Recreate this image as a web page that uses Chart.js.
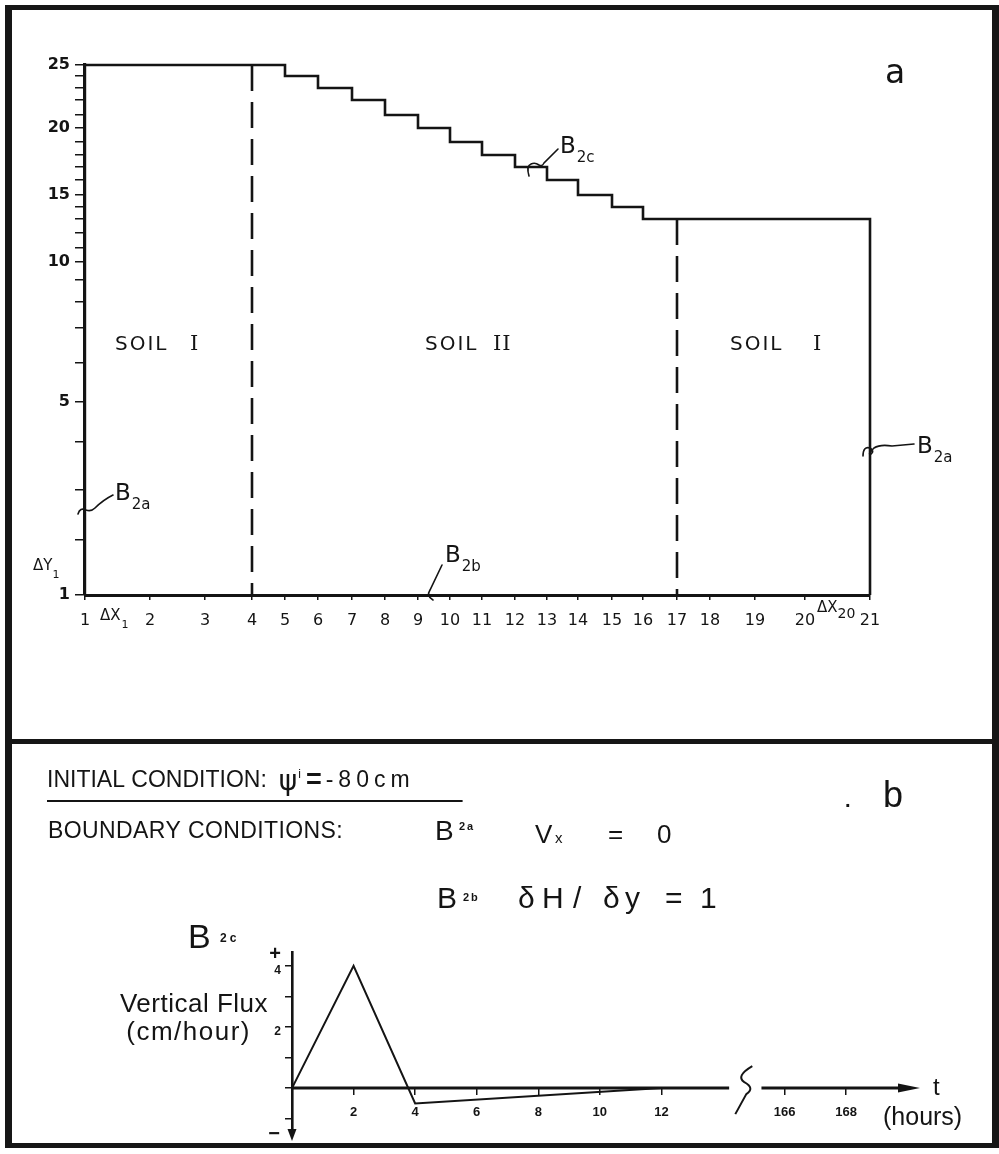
<!DOCTYPE html>
<html>
<head>
<meta charset="utf-8">
<title>Flow domain grid and boundary conditions</title>
<script src="https://cdn.jsdelivr.net/npm/chart.js@4.4.1/dist/chart.umd.min.js"></script>
<style>
  html, body { margin: 0; padding: 0; background: #fff; }
  #page { position: relative; width: 999px; height: 1154px; overflow: hidden; background: #fff; }
  #frame { position: absolute; left: 5px; top: 5px; width: 994px; height: 1143px; box-sizing: border-box;
           border-style: solid; border-color: #161616; border-width: 5px 7px 5px 7px; }
  #divider { position: absolute; left: 5px; top: 739px; width: 994px; height: 5px; background: #161616; }
  canvas { position: absolute; left: 0; }
  #gridChart { top: 0; }
  #fluxChart { top: 745px; }
</style>
</head>
<body>
<div id="page">
  <div id="frame"></div>
  <div id="divider"></div>
  <canvas id="gridChart" width="999" height="735"></canvas>
  <canvas id="fluxChart" width="999" height="405"></canvas>
</div>
<script>
const ink = '#141414';

// --- panel a: finite-difference grid, node coordinates in cm from the lower-left corner
const xNodes = [0, 6.5, 12.0, 16.7, 20.0, 23.3, 26.7, 30.0, 33.3, 36.5, 39.7,
                43.0, 46.2, 49.3, 52.7, 55.8, 59.2, 62.5, 67.0, 72.0, 78.5];
const yNodes = [0, 5.5, 10.5, 15.3, 19.3, 23.2, 26.7, 29.3, 31.5, 33.3, 34.7, 36.2, 37.6,
                38.8, 40.0, 41.5, 42.8, 44.0, 45.3, 46.7, 48.0, 49.5, 50.7, 51.9, 53.0];
const yNumbered = [1, 5, 10, 15, 20, 25];
// highest active row in each column (1-based)
const surfaceRow = [25, 25, 25, 25, 25, 24, 23, 22, 21, 20, 19, 18, 17, 16, 15, 14, 13, 13, 13, 13, 13];
// columns where the soil material changes
const materialBreaks = [4, 17];
const soilUnits = ['I', 'II', 'I'];

// --- panel b: prescribed surface flux (B2c)
const fluxHours = [0, 2, 4, 12];
const fluxRate = [0, 4, -0.5, 0];
const hourTicks = [2, 4, 6, 8, 10, 12, 166, 168];
const fluxTicks = [-1, 0, 1, 2, 3, 4];
const fluxNumbered = [2, 4];
const skippedHours = 150;          // hours hidden by the axis break
const timeAxisGap = [14.2, 15.25]; // break in the time axis (plotted units)
const timeAxisEnd = 20.4;

const plotHour = h => (h > 100 ? h - skippedHours : h);

function write(ctx, str, x, y, font, opts = {}) {
  ctx.font = font;
  ctx.textAlign = opts.align || 'left';
  ctx.textBaseline = opts.baseline || 'alphabetic';
  ctx.letterSpacing = (opts.spacing || 0) + 'px';
  ctx.fillText(str, x, y);
  const w = ctx.measureText(str).width;
  ctx.letterSpacing = '0px';
  return x + w;
}

// little hand-drawn leader lines: M / Q / L commands relative to an anchor
function leader(ctx, ax, ay, cmds) {
  ctx.beginPath();
  cmds.forEach(c => {
    if (c[0] === 'M') ctx.moveTo(ax + c[1], ay + c[2]);
    else if (c[0] === 'L') ctx.lineTo(ax + c[1], ay + c[2]);
    else ctx.quadraticCurveTo(ax + c[1], ay + c[2], ax + c[3], ay + c[4]);
  });
  ctx.stroke();
}

function surfacePoints() {
  const pts = [{ x: xNodes[0], y: yNodes[surfaceRow[0] - 1] }];
  for (let i = 1; i < xNodes.length; i++) {
    const top = yNodes[surfaceRow[i] - 1];
    pts.push({ x: xNodes[i - 1], y: top });
    pts.push({ x: xNodes[i], y: top });
  }
  pts.push({ x: xNodes[xNodes.length - 1], y: yNodes[0] });
  return pts;
}

const gridNotes = {
  id: 'gridNotes',
  afterDraw(chart) {
    const { ctx, scales: { x, y } } = chart;
    const px = v => x.getPixelForValue(v);
    const py = v => y.getPixelForValue(v);
    ctx.save();
    ctx.fillStyle = ink;
    ctx.strokeStyle = ink;
    ctx.lineWidth = 1.6;
    ctx.lineCap = 'round';

    // soil zones
    const zoneAt = [[3.0, 75], [34.0, 68], [64.5, 83]];
    soilUnits.forEach((num, i) => {
      const x0 = px(zoneAt[i][0]), base = py(24.5);
      write(ctx, 'SOIL', x0, base, '20px "DejaVu Sans"', { spacing: 2 });
      write(ctx, num, x0 + zoneAt[i][1], base, '21px "DejaVu Serif"', { spacing: 1 });
    });

    write(ctx, 'a', px(80), py(51.2), '33px "DejaVu Sans"');

    // boundary segment tags
    const tags = [
      { at: [0, 8.5], sub: '2a', dx: 30, dy: -10,
        path: [['M', -7, 4], ['Q', -5, -3, 1, 0], ['Q', 6, 2, 10, -2], ['Q', 18, -10, 28, -15]] },
      { at: [34.5, 0], sub: '2b', dx: 15, dy: -33,
        path: [['M', 3, 5], ['Q', -4, 1, 0, -5], ['L', 12, -30]] },
      { at: [44.5, 42.6], sub: '2c', dx: 30, dy: -16,
        path: [['M', -1, 7], ['Q', -4, -3, 1, -5], ['Q', 5, -7, 9, -4], ['Q', 12, -2, 14, -6], ['L', 28, -20]] },
      { at: [78.5, 14.3], sub: '2a', dx: 47, dy: 1,
        path: [['M', -7, 4], ['Q', -7, -6, 0, -4], ['Q', 5, -1, 1, 2], ['Q', -3, 3, 4, -4], ['Q', 10, -8, 22, -6], ['L', 44, -8]] }
    ];
    tags.forEach(t => {
      const ax = px(t.at[0]), ay = py(t.at[1]);
      leader(ctx, ax, ay, t.path);
      const e = write(ctx, 'B', ax + t.dx, ay + t.dy, '23px "DejaVu Sans"');
      write(ctx, t.sub, e + 1, ay + t.dy + 9, '15px "DejaVu Sans"');
    });

    // grid spacing marks
    const ox = px(0), oy = py(0);
    let e = write(ctx, '\u0394Y', ox - 52, oy - 25, '15px "DejaVu Sans"');
    write(ctx, '1', e, oy - 17, '11px "DejaVu Sans"');
    e = write(ctx, '\u0394X', ox + 15, oy + 25, '15px "DejaVu Sans"');
    write(ctx, '1', e + 1, oy + 33, '11px "DejaVu Sans"');
    e = write(ctx, '\u0394X', px(xNodes[19]) + 12, oy + 17, '15px "DejaVu Sans"');
    write(ctx, '20', e, oy + 23, '14px "DejaVu Sans"');
    ctx.restore();
  }
};

new Chart(document.getElementById('gridChart'), {
  type: 'scatter',
  data: {
    datasets: [
      { data: surfacePoints(), showLine: true, borderColor: ink, borderWidth: 2.6,
        pointRadius: 0, clip: false },
      ...materialBreaks.map(c => ({
        data: [{ x: xNodes[c - 1], y: yNodes[surfaceRow[c - 1] - 1] }, { x: xNodes[c - 1], y: yNodes[0] }],
        showLine: true, borderColor: ink, borderWidth: 2.6, borderDash: [26, 11],
        pointRadius: 0, clip: false
      }))
    ]
  },
  options: {
    responsive: false, animation: false, devicePixelRatio: 1,
    layout: { autoPadding: false, padding: { top: 65, right: 129, bottom: 100, left: 0 } },
    plugins: { legend: { display: false }, tooltip: { enabled: false } },
    scales: {
      x: {
        type: 'linear', min: xNodes[0], max: xNodes[xNodes.length - 1],
        afterFit: s => { s.height = 40; },
        afterBuildTicks: s => { s.ticks = xNodes.map(v => ({ value: v })); },
        grid: { drawOnChartArea: false, drawTicks: true, tickLength: 5, color: ink, lineWidth: 1.5 },
        border: { display: true, color: ink, width: 3 },
        ticks: { autoSkip: false, maxRotation: 0, padding: 11, color: ink,
                 font: { family: 'DejaVu Sans', size: 16 }, callback: (v, i) => String(i + 1) }
      },
      y: {
        type: 'linear', min: yNodes[0], max: yNodes[yNodes.length - 1],
        afterFit: s => { s.width = 85; },
        afterBuildTicks: s => { s.ticks = yNodes.map(v => ({ value: v })); },
        grid: { drawOnChartArea: false, drawTicks: true, tickLength: 10, color: ink, lineWidth: 1.5 },
        border: { display: true, color: ink, width: 3.2 },
        ticks: { autoSkip: false, padding: 5, color: ink,
                 font: { family: 'DejaVu Sans', size: 16, weight: 'bold' },
                 callback: (v, i) => (yNumbered.includes(i + 1) ? String(i + 1) : '') }
      }
    }
  },
  plugins: [gridNotes]
});

const fluxNotes = {
  id: 'fluxNotes',
  afterDraw(chart) {
    const { ctx, chartArea: area, scales: { x, y } } = chart;
    const y0 = y.getPixelForValue(0);
    ctx.save();
    ctx.fillStyle = ink;
    ctx.strokeStyle = ink;

    // initial condition, underlined
    let e = write(ctx, 'INITIAL CONDITION:', 47, 42, '23px "Liberation Sans"');
    e = write(ctx, '\u03C8', e + 12, 45, '28px "DejaVu Sans"');
    e = write(ctx, 'i', e + 1, 33, '12px "Liberation Sans"');
    e = write(ctx, '=', e + 5, 43, 'bold 27px "Liberation Sans"');
    e = write(ctx, '-80cm', e + 4, 42, '23px "Liberation Sans"', { spacing: 5 });
    ctx.fillRect(47, 55, e + 48 - 47, 2);

    // boundary conditions
    write(ctx, 'BOUNDARY CONDITIONS:', 48, 93, '23px "Liberation Sans"', { spacing: 0.4 });
    write(ctx, 'B', 435, 95, '28px "Liberation Sans"');
    write(ctx, '2a', 459, 85, 'bold 11px "Liberation Sans"', { spacing: 2 });
    write(ctx, 'V', 535, 98, '26px "Liberation Sans"');
    write(ctx, 'x', 555, 98, '15px "Liberation Sans"');
    write(ctx, '=', 608, 98, '26px "Liberation Sans"');
    write(ctx, '0', 657, 98, '26px "Liberation Sans"');

    write(ctx, 'B', 437, 163, '30px "Liberation Sans"');
    write(ctx, '2b', 463, 156, 'bold 11px "Liberation Sans"', { spacing: 2 });
    [['\u03B4', 518], ['H', 542], ['/', 573], ['\u03B4', 603], ['y', 625], ['=', 665], ['1', 700]]
      .forEach(([ch, cx]) => write(ctx, ch, cx, 163, '30px "Liberation Sans"'));

    write(ctx, '.', 845, 62, 'bold 20px "Liberation Sans"');
    write(ctx, 'b', 883, 62, '36px "Liberation Sans"');

    write(ctx, 'B', 188, 203, '34px "Liberation Sans"');
    write(ctx, '2c', 220, 197, 'bold 12px "Liberation Sans"', { spacing: 3 });

    write(ctx, 'Vertical Flux', 268, 267, '26px "Liberation Sans"', { align: 'right', spacing: 0.5 });
    write(ctx, '(cm/hour)', 251, 295, '26px "Liberation Sans"', { align: 'right', spacing: 1.5 });

    // axis signs and arrowheads
    write(ctx, '+', area.left - 17, y.getPixelForValue(4.36), 'bold 20px "Liberation Sans"',
          { align: 'center', baseline: 'middle' });
    write(ctx, '\u2212', area.left - 18, area.bottom, 'bold 20px "Liberation Sans"',
          { align: 'center', baseline: 'middle' });

    ctx.beginPath();
    ctx.moveTo(area.right, y0);
    ctx.lineTo(area.right - 22, y0 - 4.5);
    ctx.lineTo(area.right - 22, y0 + 4.5);
    ctx.closePath();
    ctx.fill();

    ctx.beginPath();
    ctx.moveTo(area.left, area.bottom + 7);
    ctx.lineTo(area.left - 4.5, area.bottom - 5);
    ctx.lineTo(area.left + 4.5, area.bottom - 5);
    ctx.closePath();
    ctx.fill();

    // break in the time axis
    const bx = x.getPixelForValue((timeAxisGap[0] + timeAxisGap[1]) / 2) - 3;
    ctx.lineWidth = 2;
    leader(ctx, bx, y0, [['M', 10, -22], ['Q', -7, -12, 2, -6], ['Q', 13, 0, 4, 6], ['L', -7, 26]]);

    write(ctx, 't', area.right + 13, y0 + 7, '24px "Liberation Sans"');
    write(ctx, '(hours)', 883, 380, '25px "Liberation Sans"');
    ctx.restore();
  }
};

new Chart(document.getElementById('fluxChart'), {
  type: 'scatter',
  data: {
    datasets: [
      { data: fluxHours.map((h, i) => ({ x: plotHour(h), y: fluxRate[i] })), showLine: true,
        borderColor: ink, borderWidth: 2, pointRadius: 0, clip: false },
      { data: [{ x: 0, y: 0 }, { x: timeAxisGap[0], y: 0 }], showLine: true,
        borderColor: ink, borderWidth: 3, pointRadius: 0, clip: false },
      { data: [{ x: timeAxisGap[1], y: 0 }, { x: timeAxisEnd - 0.5, y: 0 }], showLine: true,
        borderColor: ink, borderWidth: 3, pointRadius: 0, clip: false }
    ]
  },
  options: {
    responsive: false, animation: false, devicePixelRatio: 1,
    layout: { autoPadding: false, padding: { top: 207, right: 79, bottom: 16, left: 0 } },
    plugins: { legend: { display: false }, tooltip: { enabled: false } },
    scales: {
      x: {
        type: 'linear', position: { y: 0 }, min: 0, max: timeAxisEnd,
        afterBuildTicks: s => { s.ticks = hourTicks.map(h => ({ value: plotHour(h) })); },
        grid: { drawOnChartArea: false, drawTicks: true, tickLength: 7, color: ink, lineWidth: 1.5 },
        border: { display: false },
        ticks: { autoSkip: false, maxRotation: 0, padding: 10, color: ink,
                 font: { family: 'Liberation Sans Narrow, Liberation Sans', size: 13, weight: 'bold' },
                 callback: (v, i) => String(hourTicks[i]) }
      },
      y: {
        type: 'linear', min: -1.5, max: 4.45,
        afterFit: s => { s.width = 292; },
        afterBuildTicks: s => { s.ticks = fluxTicks.map(v => ({ value: v })); },
        grid: { drawOnChartArea: false, drawTicks: true, tickLength: 7, color: ink, lineWidth: 1.5 },
        border: { display: true, color: ink, width: 2.6 },
        ticks: { autoSkip: false, padding: 4, labelOffset: 5, color: ink,
                 font: { family: 'Liberation Sans', size: 12, weight: 'bold' },
                 callback: v => (fluxNumbered.includes(v) ? String(v) : '') }
      }
    }
  },
  plugins: [fluxNotes]
});
</script>
</body>
</html>
